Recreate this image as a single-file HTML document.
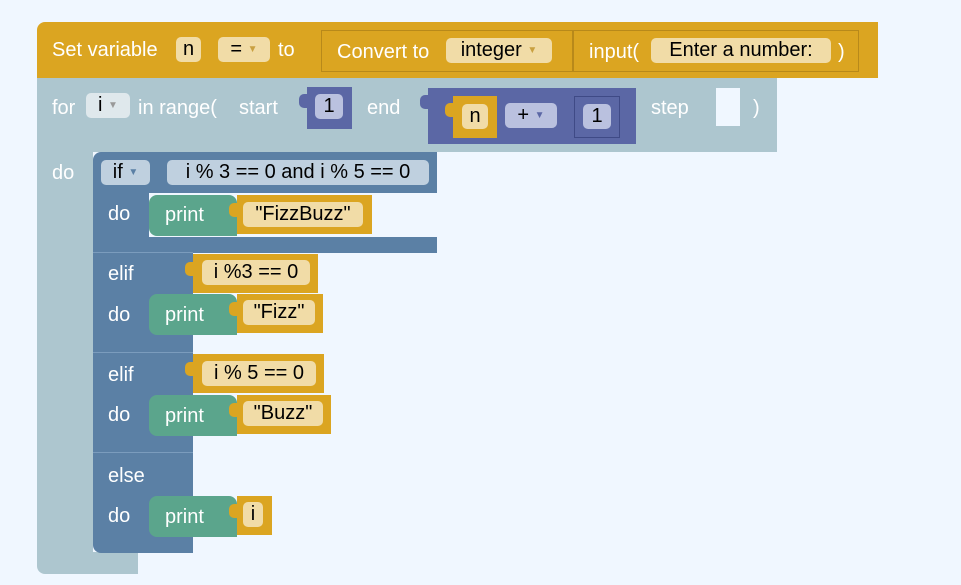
<!DOCTYPE html>
<html><head><meta charset="utf-8"><style>
body{margin:0;width:961px;height:585px;background:#f0f7ff;position:relative;overflow:hidden;font-family:"Liberation Sans",Arial,sans-serif;}
div{position:absolute;box-sizing:border-box;}
.t{color:#fff;font-size:20px;line-height:22px;white-space:nowrap;margin-top:2px;}
.f{border-radius:5px;color:#000;font-size:20px;line-height:25px;height:25px;text-align:center;white-space:nowrap;}
.gold{background:#dba521;}
.gf{background:#f1dca7;}
.lb{background:#adc6cf;}
.ib{background:#5b80a5;}
.gr{background:#5ba58c;border-radius:8px 8px 0 8px;}
.pu{background:#5b67a5;}
.arr{font-size:10px;color:#999;vertical-align:middle;}
.tab{width:8px;height:14px;border-radius:5px 0 0 5px;}
</style></head><body>
<!-- set variable -->
<div class="gold" style="left:37px;top:22px;width:841px;height:56px;border-radius:8px 0 0 0;"></div>
<div class="t" style="left:52px;top:37px;">Set variable</div>
<div class="f gf" style="left:176px;top:37px;width:25px;">n</div>
<div class="f gf" style="left:218px;top:37px;width:52px;">= <span class="arr" style="color:#c9a040">▼</span></div>
<div class="t" style="left:278px;top:37px;">to</div>
<div style="left:321px;top:30px;width:252px;height:42px;border:1px solid #b8891a;"></div>
<div class="t" style="left:337px;top:39px;">Convert to</div>
<div class="f gf" style="left:446px;top:38px;width:106px;">integer <span class="arr" style="color:#c9a040">▼</span></div>
<div style="left:573px;top:30px;width:286px;height:42px;border:1px solid #b8891a;"></div>
<div class="t" style="left:589px;top:39px;">input(</div>
<div class="f gf" style="left:651px;top:38px;width:180px;">Enter a number:</div>
<div class="t" style="left:838px;top:39px;">)</div>
<!-- for -->
<div class="lb" style="left:37px;top:78px;width:740px;height:74px;"></div>
<div class="lb" style="left:37px;top:150px;width:56px;height:405px;"></div>
<div class="lb" style="left:37px;top:552px;width:101px;height:22px;border-radius:0 0 0 8px;"></div>
<div class="t" style="left:52px;top:95px;">for</div>
<div class="f" style="left:86px;top:93px;width:44px;background:#dfe8ec;">i <span class="arr">▼</span></div>
<div class="t" style="left:138px;top:95px;">in range(</div>
<div class="t" style="left:239px;top:95px;">start</div>
<div class="pu" style="left:307px;top:87px;width:45px;height:42px;"></div>
<div class="pu tab" style="left:299px;top:94px;"></div>
<div class="f" style="left:315px;top:94px;width:28px;background:#bac1df;">1</div>
<div class="t" style="left:367px;top:95px;">end</div>
<div class="pu" style="left:428px;top:88px;width:208px;height:56px;"></div>
<div class="pu tab" style="left:420px;top:95px;"></div>
<div class="gold" style="left:453px;top:96px;width:44px;height:42px;"></div>
<div class="gold tab" style="left:445px;top:103px;"></div>
<div class="f gf" style="left:462px;top:104px;width:26px;">n</div>
<div class="f" style="left:505px;top:103px;width:52px;background:#bac1df;">+ <span class="arr" style="color:#5b67a5">▼</span></div>
<div style="left:574px;top:96px;width:46px;height:42px;border:1px solid #3f4a86;"></div>
<div class="f" style="left:583px;top:104px;width:28px;background:#bac1df;">1</div>
<div class="t" style="left:651px;top:95px;">step</div>
<div style="left:716px;top:88px;width:24px;height:38px;background:#f0f7ff;"></div>
<div class="t" style="left:753px;top:95px;">)</div>
<div class="t" style="left:52px;top:160px;">do</div>
<!-- if -->
<div class="ib" style="left:93px;top:152px;width:344px;height:41px;border-radius:8px 0 0 0;"></div>
<div class="ib" style="left:93px;top:190px;width:56px;height:50px;"></div>
<div class="ib" style="left:93px;top:237px;width:344px;height:16px;"></div>
<div class="ib" style="left:93px;top:252px;width:100px;height:301px;border-top:1px solid #7b9cbd;border-radius:0 0 0 8px;"></div>
<div style="left:93px;top:352px;width:100px;height:1px;background:#7b9cbd;"></div>
<div style="left:93px;top:452px;width:100px;height:1px;background:#7b9cbd;"></div>
<div class="f" style="left:101px;top:160px;width:49px;background:#bfd0df;">if <span class="arr" style="color:#5b80a5">▼</span></div>
<div class="f" style="left:167px;top:160px;width:262px;background:#bfd0df;">i % 3 == 0 and i % 5 == 0</div>
<div class="t" style="left:108px;top:201px;">do</div>
<div class="gr" style="left:149px;top:195px;width:88px;height:41px;"></div>
<div class="t" style="left:165px;top:202px;">print</div>
<div class="gold" style="left:237px;top:195px;width:135px;height:39px;"></div>
<div class="gold tab" style="left:229px;top:203px;"></div>
<div class="f gf" style="left:243px;top:202px;width:120px;">"FizzBuzz"</div>
<!-- elif 1 -->
<div class="t" style="left:108px;top:261px;">elif</div>
<div class="gold" style="left:193px;top:254px;width:125px;height:39px;"></div>
<div class="gold tab" style="left:185px;top:262px;"></div>
<div class="f gf" style="left:202px;top:260px;width:108px;">i %3 == 0</div>
<div class="t" style="left:108px;top:302px;">do</div>
<div class="gr" style="left:149px;top:294px;width:88px;height:41px;"></div>
<div class="t" style="left:165px;top:302px;">print</div>
<div class="gold" style="left:237px;top:294px;width:86px;height:39px;"></div>
<div class="gold tab" style="left:229px;top:302px;"></div>
<div class="f gf" style="left:243px;top:300px;width:72px;">"Fizz"</div>
<!-- elif 2 -->
<div class="t" style="left:108px;top:362px;">elif</div>
<div class="gold" style="left:193px;top:354px;width:131px;height:39px;"></div>
<div class="gold tab" style="left:185px;top:362px;"></div>
<div class="f gf" style="left:202px;top:361px;width:114px;">i % 5 == 0</div>
<div class="t" style="left:108px;top:402px;">do</div>
<div class="gr" style="left:149px;top:395px;width:88px;height:41px;"></div>
<div class="t" style="left:165px;top:403px;">print</div>
<div class="gold" style="left:237px;top:395px;width:94px;height:39px;"></div>
<div class="gold tab" style="left:229px;top:403px;"></div>
<div class="f gf" style="left:243px;top:401px;width:80px;">"Buzz"</div>
<!-- else -->
<div class="t" style="left:108px;top:463px;">else</div>
<div class="t" style="left:108px;top:503px;">do</div>
<div class="gr" style="left:149px;top:496px;width:88px;height:41px;"></div>
<div class="t" style="left:165px;top:504px;">print</div>
<div class="gold" style="left:237px;top:496px;width:35px;height:39px;"></div>
<div class="gold tab" style="left:229px;top:504px;"></div>
<div class="f gf" style="left:243px;top:502px;width:20px;">i</div>
</body></html>
